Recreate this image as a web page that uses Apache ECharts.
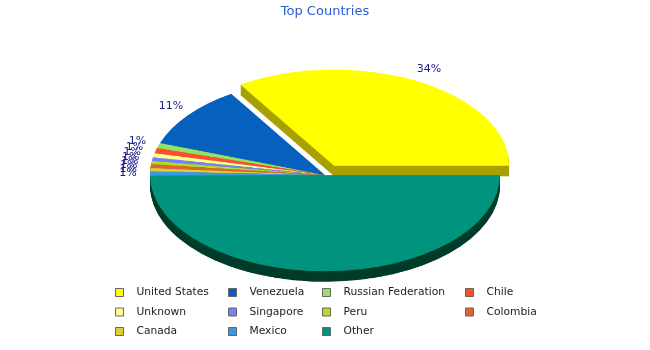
<!DOCTYPE html>
<html>
<head>
<meta charset="utf-8">
<script src="https://cdn.jsdelivr.net/npm/echarts@6/dist/echarts.min.js"></script>
<style>
  html, body { margin: 0; padding: 0; background: #ffffff; }
  #wrap { position: relative; width: 650px; height: 350px; overflow: hidden; }
  #pie3d { position: absolute; left: 0; top: 0; width: 650px; height: 636.36px; transform: scaleY(0.55); transform-origin: 0 0; z-index: 1; }
  #main { position: absolute; left: 0; top: 0; width: 650px; height: 350px; z-index: 2; }
</style>
</head>
<body>
<div id="wrap">
  <div id="pie3d"></div>
  <div id="main"></div>
</div>
<script>
// ---- data ----
const categories = ['United States', 'Venezuela', 'Russian Federation', 'Chile', 'Unknown', 'Singapore', 'Peru', 'Colombia', 'Canada', 'Mexico', 'Other'];
const shares = [34.0, 10.6, 0.9, 0.85, 0.7, 0.6, 0.55, 0.65, 0.55, 0.75, 49.85];
const explodedName = 'United States';
const unlabeledNames = ['Other'];
const titleText = 'Top Countries';

// ---- styles ----
const topColors = ['#FFFF00', '#0560BE', '#96E064', '#FF4E2E', '#FFFF8F', '#7282FF', '#B6DA2A', '#E0642E', '#DCD034', '#389AE0', '#00947E'];
const sideColors = ['#A8A000', '#023A70', '#5A8A3A', '#992E1C', '#99995A', '#44509A', '#6E8418', '#863C1C', '#847C1E', '#215C86', '#003C2A'];
const SQ = 0.55, CX = 325, CY = 175, R = 175, DEPTH = 10.5, OFFSET = 19, LAYERS = 12;
const FONT = 'DejaVu Sans';

const total = shares.reduce((a, b) => a + b, 0);
function midAngle(i) {
  let cum = 0;
  for (let k = 0; k < i; k++) cum += shares[k];
  return (cum + shares[i] / 2) / total * 2 * Math.PI;
}

// ---- 3D pie (squashed layers) ----
const pie3d = echarts.init(document.getElementById('pie3d'), null, { renderer: 'canvas' });
const layerSeries = [];
for (let k = LAYERS; k >= 0; k--) {
  const off = (DEPTH / SQ) * k / LAYERS;
  const cols = k === 0 ? topColors : sideColors;
  layerSeries.push({
    type: 'pie',
    center: [CX, CY / SQ + off],
    radius: R,
    startAngle: 0,
    clockwise: false,
    selectedMode: 'single',
    selectedOffset: OFFSET,
    silent: true,
    animation: false,
    label: { show: false },
    labelLine: { show: false },
    emphasis: { disabled: true },
    data: categories.map((n, i) => ({
      name: n,
      value: shares[i],
      selected: n === explodedName,
      itemStyle: { color: cols[i], borderWidth: 0 },
      select: { itemStyle: { color: cols[i], borderWidth: 0 } }
    }))
  });
}
pie3d.setOption({ animation: false, series: layerSeries });

// ---- title, legend, labels ----
const main = echarts.init(document.getElementById('main'), null, { renderer: 'canvas' });
const legendLefts = [115, 228, 322, 465];
const legends = legendLefts.map((left, c) => ({
  orient: 'vertical',
  left: left,
  top: 287,
  padding: 0,
  itemWidth: 8,
  itemHeight: 8,
  itemGap: 8.5,
  icon: 'rect',
  selectedMode: false,
  textStyle: { fontFamily: FONT, fontSize: 10.7, color: '#222222', padding: [0, 0, 0, 8] },
  data: categories.map((n, i) => ({ n, i })).filter(o => o.i % 4 === c).map(o => ({
    name: o.n,
    itemStyle: { color: topColors[o.i], borderColor: '#666666', borderWidth: 1, opacity: 1 }
  }))
}));

main.setOption({
  animation: false,
  backgroundColor: 'transparent',
  title: {
    text: titleText,
    left: 'center',
    top: 5,
    padding: 0,
    textStyle: { fontFamily: FONT, fontSize: 13, fontWeight: 'normal', color: '#2A5AD8' }
  },
  legend: legends,
  series: [{
    type: 'pie',
    center: [CX, CY],
    radius: 100,
    startAngle: 0,
    clockwise: false,
    silent: true,
    avoidLabelOverlap: false,
    itemStyle: { color: 'rgba(0,0,0,0)' },
    label: {
      show: true,
      position: 'outside',
      fontFamily: FONT,
      fontSize: 11,
      color: '#1C1C8C',
      formatter: p => Math.round(p.percent) + '%'
    },
    labelLine: { show: false },
    labelLayout: function (params) {
      const i = params.dataIndex;
      const a = midAngle(i);
      let x = CX + (R + 22) * Math.cos(a);
      let y = CY - (R * SQ + 14) * Math.sin(a);
      if (categories[i] === explodedName) {
        x += OFFSET * Math.cos(a);
        y -= OFFSET * SQ * Math.sin(a);
      }
      return { x: x, y: y, align: 'center', verticalAlign: 'middle' };
    },
    data: categories.map((n, i) => ({
      name: n,
      value: shares[i],
      label: { show: unlabeledNames.indexOf(n) < 0 }
    }))
  }]
});
</script>
</body>
</html>
